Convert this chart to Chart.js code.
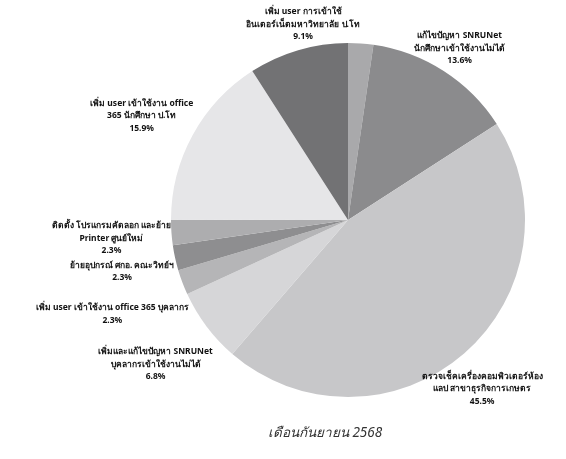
<!DOCTYPE html>
<html>
<head>
<meta charset="utf-8">
<script src="https://cdn.jsdelivr.net/npm/chart.js@4/dist/chart.umd.min.js"></script>
<style>
  html, body { margin: 0; padding: 0; background: #fff; }
  #wrap { width: 566px; height: 459px; position: relative; }
</style>
</head>
<body>
<div id="wrap"><canvas id="pie" width="566" height="459"></canvas></div>
<script>
// data (clockwise from 12 o'clock)
const categories = [
  "อื่น ๆ",
  "แก้ไขปัญหา SNRUNet นักศึกษาเข้าใช้งานไม่ได้",
  "ตรวจเช็คเครื่องคอมพิวเตอร์ห้องแลป สาขาธุรกิจการเกษตร",
  "เพิ่มและแก้ไขปัญหา SNRUNet บุคลากรเข้าใช้งานไม่ได้",
  "เพิ่ม user เข้าใช้งาน office 365 บุคลากร",
  "ย้ายอุปกรณ์ ศกอ. คณะวิทย์ฯ",
  "ติดตั้ง โปรแกรมคัดลอก และย้าย Printer ศูนย์ใหม่",
  "เพิ่ม user เข้าใช้งาน office 365 นักศึกษา ป.โท",
  "เพิ่ม user การเข้าใช้ อินเตอร์เน็ตมหาวิทยาลัย ป.โท"
];
const percents = [2.3, 13.6, 45.5, 6.8, 2.3, 2.3, 2.3, 15.9, 9.1];
const labelLines = [
  null,
  ["แก้ไขปัญหา SNRUNet", "นักศึกษาเข้าใช้งานไม่ได้"],
  ["ตรวจเช็คเครื่องคอมพิวเตอร์ห้อง", "แลป สาขาธุรกิจการเกษตร"],
  ["เพิ่มและแก้ไขปัญหา SNRUNet", "บุคลากรเข้าใช้งานไม่ได้"],
  ["เพิ่ม user เข้าใช้งาน office 365 บุคลากร"],
  ["ย้ายอุปกรณ์ ศกอ. คณะวิทย์ฯ"],
  ["ติดตั้ง โปรแกรมคัดลอก และย้าย", "Printer ศูนย์ใหม่"],
  ["เพิ่ม user เข้าใช้งาน office", "365 นักศึกษา ป.โท"],
  ["เพิ่ม user การเข้าใช้", "อินเตอร์เน็ตมหาวิทยาลัย ป.โท"]
];
const chartTitle = "เดือนกันยายน 2568";

// styles
const sliceColors = ["#a9a9ab", "#8b8b8d", "#c7c7c9", "#d6d6d8", "#b5b5b7",
                     "#8e8e90", "#adadaf", "#e6e6e8", "#727274"];
// label nudge from the slice's outer mid point (px)
const labelNudge = [null, [16, -23], [18, 35], [-51, 38], [-70, 32],
                    [-53, 14], [-60, 6], [-51, -19], [5, -26]];

const labelPlugin = {
  id: "outLabels",
  afterDatasetsDraw(chart) {
    const ctx = chart.ctx;
    const meta = chart.getDatasetMeta(0);
    ctx.save();
    ctx.fillStyle = "#111";
    ctx.textAlign = "center";
    ctx.textBaseline = "middle";
    ctx.font = "bold 8.5px 'Noto Sans', sans-serif";
    meta.data.forEach((arc, i) => {
      if (!labelLines[i]) return;
      const mid = (arc.startAngle + arc.endAngle) / 2;
      const x0 = arc.x + Math.cos(mid) * arc.outerRadius + labelNudge[i][0];
      const y0 = arc.y + Math.sin(mid) * arc.outerRadius + labelNudge[i][1];
      const lines = labelLines[i].concat([percents[i].toFixed(1) + "%"]);
      const lh = 12.5;
      const top = y0 - (lines.length - 1) * lh / 2;
      lines.forEach((t, k) => ctx.fillText(t, x0, top + k * lh));
    });
    // title under the pie
    ctx.fillStyle = "#333";
    ctx.font = "italic 13.5px 'Noto Sans', sans-serif";
    ctx.fillText(chartTitle, 325, 433);
    ctx.restore();
  }
};

new Chart(document.getElementById("pie").getContext("2d"), {
  type: "pie",
  data: {
    labels: categories,
    datasets: [{
      data: percents,
      backgroundColor: sliceColors,
      borderWidth: 0
    }]
  },
  options: {
    responsive: false,
    animation: false,
    layout: { padding: { left: 171, right: 41, top: 43, bottom: 62 } },
    plugins: {
      legend: { display: false },
      tooltip: { enabled: false }
    }
  },
  plugins: [labelPlugin]
});
</script>
</body>
</html>
